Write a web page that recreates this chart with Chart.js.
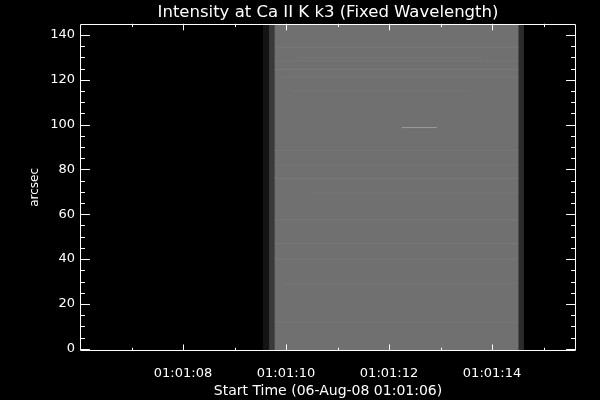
<!DOCTYPE html>
<html>
<head>
<meta charset="utf-8">
<script src="https://cdn.jsdelivr.net/npm/chart.js@4/dist/chart.umd.min.js"></script>
<style>
  html, body { margin: 0; padding: 0; background: #000; }
  #wrap { width: 600px; height: 400px; }
  canvas { background: #000; }
</style>
</head>
<body>
<div id="wrap"><canvas id="c" width="600" height="400"></canvas></div>
<script>
// ---- data (time in seconds after start 01:01:06, position in arcsec) ----
const colStart = [3.55, 3.67, 3.77, 8.52];
const colEnd   = [3.67, 3.77, 8.52, 8.62];
const colGray  = [20, 57, 112, 43];
const yTop = 145;
const yBottom = -1;

// faint horizontal streaks seen in the raster (arcsec, start s, end s, opacity)
const streakY     = [134.6, 130.0, 128.4, 124.7, 121.3, 115.0, 88.5, 82.0, 76.0, 69.5, 57.5, 47.0, 40.0, 29.0, 12.0];
const streakStart = [3.77, 4.20, 3.77, 3.77, 3.90, 4.10, 3.77, 3.77, 3.77, 4.50, 3.77, 3.77, 3.77, 4.00, 3.77];
const streakEnd   = [8.52, 7.80, 8.52, 8.52, 8.52, 7.50, 8.52, 8.52, 8.52, 8.52, 8.52, 8.52, 8.52, 8.52, 8.52];
const streakAlpha = [0.07, 0.05, 0.06, 0.07, 0.06, 0.05, 0.05, 0.06, 0.07, 0.04, 0.06, 0.06, 0.08, 0.05, 0.04];
const brightY = [98.7];
const brightStart = [6.25];
const brightEnd = [6.93];

const xTickValues = [1, 2, 3, 4, 5, 6, 7, 8, 9];
const xTickLabels = ['', '01:01:08', '', '01:01:10', '', '01:01:12', '', '01:01:14', ''];
const xMajor      = [false, true, false, true, false, true, false, true, false];
const yTickValues = [0,5,10,15,20,25,30,35,40,45,50,55,60,65,70,75,80,85,90,95,100,105,110,115,120,125,130,135,140];
const yLabeled    = [0, 20, 40, 60, 80, 100, 120, 140];

const xMin = 0, xMax = 9.63;

// ---- datasets ----
const datasets = [];
for (let i = 0; i < colStart.length; i++) {
  const g = colGray[i];
  datasets.push({
    data: [{x: colStart[i], y: yTop}, {x: colEnd[i], y: yTop}],
    backgroundColor: `rgb(${g},${g},${g})`,
    borderWidth: 0, borderColor: 'rgba(0,0,0,0)',
    pointRadius: 0, fill: {value: yBottom}, order: 3
  });
}
for (let i = 0; i < streakY.length; i++) {
  datasets.push({
    data: [{x: streakStart[i], y: streakY[i]}, {x: streakEnd[i], y: streakY[i]}],
    borderColor: `rgba(255,255,255,${streakAlpha[i]})`,
    borderWidth: 1, pointRadius: 0, fill: false, order: 2
  });
}
for (let i = 0; i < brightY.length; i++) {
  datasets.push({
    data: [{x: brightStart[i], y: brightY[i]}, {x: brightEnd[i], y: brightY[i]}],
    borderColor: 'rgba(255,255,255,0.3)',
    borderWidth: 1, pointRadius: 0, fill: false, order: 1
  });
}

// inward tick marks + frame drawn from the library's scales
const framePlugin = {
  id: 'idlFrame',
  afterDraw(chart) {
    const {ctx, chartArea: a, scales} = chart;
    const h = a.bottom - a.top, w = a.right - a.left;
    ctx.save();
    ctx.strokeStyle = '#fff';
    ctx.lineWidth = 1;
    ctx.beginPath();
    ctx.rect(Math.round(a.left) + 0.5, Math.round(a.top) + 0.5,
             Math.round(w) - 1, Math.round(h) - 1);
    ctx.stroke();
    const xl = 0.02 * h, yl = 0.02 * w;
    ctx.beginPath();
    xTickValues.forEach((v, i) => {
      const px = Math.round(scales.x.getPixelForValue(v)) + 0.5;
      const len = xMajor[i] ? xl : xl / 2;
      ctx.moveTo(px, a.bottom); ctx.lineTo(px, a.bottom - len);
      ctx.moveTo(px, a.top); ctx.lineTo(px, a.top + len);
    });
    yTickValues.forEach((v) => {
      const py = Math.round(scales.y.getPixelForValue(v)) + 0.5;
      const len = yLabeled.includes(v) ? yl : yl / 2;
      ctx.moveTo(a.left, py); ctx.lineTo(a.left + len, py);
      ctx.moveTo(a.right, py); ctx.lineTo(a.right - len, py);
    });
    ctx.stroke();
    ctx.restore();
  }
};

const font = {family: 'DejaVu Sans', size: 13};

new Chart(document.getElementById('c'), {
  type: 'line',
  data: {datasets},
  plugins: [framePlugin],
  options: {
    responsive: false,
    animation: false,
    layout: {padding: {left: 0, right: 24, top: 0, bottom: 0}},
    plugins: {
      legend: {display: false},
      tooltip: {enabled: false},
      title: {
        display: true,
        text: 'Intensity at Ca II K k3 (Fixed Wavelength)',
        color: '#fff',
        font: {family: 'DejaVu Sans', size: 16.5, weight: 'normal'},
        padding: {top: 3, bottom: 1},
        fullSize: false
      }
    },
    scales: {
      x: {
        type: 'linear', min: xMin, max: xMax,
        grid: {display: false, drawTicks: false},
        border: {display: false},
        afterBuildTicks: (s) => { s.ticks = xTickValues.map(v => ({value: v})); },
        afterFit: (s) => { s.height = 49; },
        ticks: {
          color: '#fff', font, padding: 15, autoSkip: false, maxRotation: 0,
          callback: (v, i) => xTickLabels[i]
        },
        title: {
          display: true, text: 'Start Time (06-Aug-08 01:01:06)',
          color: '#fff', font: {family: 'DejaVu Sans', size: 14}, padding: 0
        }
      },
      y: {
        type: 'linear', min: yBottom, max: yTop,
        grid: {display: false, drawTicks: false},
        border: {display: false},
        afterBuildTicks: (s) => { s.ticks = yTickValues.map(v => ({value: v})); },
        afterFit: (s) => { s.width = 80; },
        ticks: {
          color: '#fff', font, padding: 5, autoSkip: false,
          callback: (v) => yLabeled.includes(v) ? String(v) : ''
        },
        title: {
          display: true, text: 'arcsec',
          color: '#fff', font: {family: 'DejaVu Sans', size: 12}, padding: 28
        }
      }
    }
  }
});
</script>
</body>
</html>
